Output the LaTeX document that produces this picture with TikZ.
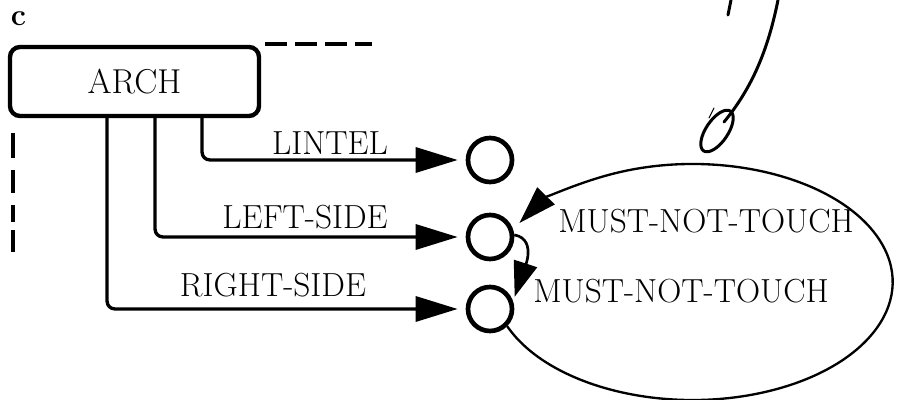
\documentclass[tikz,border=0pt]{standalone}
\usepackage{fontspec}
\usetikzlibrary{arrows.meta,calc}

\begin{document}
\begin{tikzpicture}[x=0.03cm,y=0.03cm,
  lbl/.style={inner sep=0pt,font=\fontsize{28.5}{32}\selectfont},
  archbox/.style={draw,line width=0.13cm,rounded corners=0.3cm,
    minimum width=7.47cm,minimum height=2.07cm,inner sep=0pt,
    font=\fontsize{29.5}{33}\selectfont},
  slot/.style={draw,circle,line width=0.14cm,minimum size=1.32cm,inner sep=0pt},
  link/.style={line width=0.1cm,rounded corners=0.24cm,shorten >=0.24cm,
    -{Triangle[length=1.26cm,width=0.75cm]}},
  ring/.style={line width=0.07cm,-{Triangle[length=1.14cm,width=0.72cm]}},
  hook/.style={line width=0.08cm,shorten >=0.15cm,
    -{Triangle[length=1.05cm,width=0.72cm]}},
  edge dash/.style={line width=0.12cm},
  pen/.style={line width=0.09cm,line cap=round}]

  \fill[white] (0,0) rectangle (897,-400);
  \useasboundingbox (0,0) rectangle (897,-400);

  % frame letter
  \node[inner sep=0pt,font=\fontsize{26}{30}\selectfont\bfseries] (tag) at (18.5,-19) {c};

  % the ARCH frame and its slots
  \node[archbox] (arch) at (134.5,-81.5) {ARCH};
  \node[slot] (c1) at (490,-160) {};
  \node[slot] (c2) at (490,-237) {};
  \node[slot] (c3) at (490,-309) {};

  % slot links
  \draw[link] (202,0 |- arch.south) |- (c1);
  \draw[link] (155,0 |- arch.south) |- (c2);
  \draw[link] (107,0 |- arch.south) |- (c3);

  \node[lbl] (lintel) at (330,-143) {LINTEL};
  \node[lbl] (lside) at (305,-217) {LEFT-SIDE};
  \node[lbl] (rside) at (273,-285) {RIGHT-SIDE};

  % must-not-touch relations
  \draw[ring] (c3.-45) arc[start angle=202,end angle=510,x radius=200,y radius=118];
  \draw[hook] (c2.5) to[out=-10,in=72] (c3.18);

  \node[lbl] (mnt1) at (706,-221) {MUST-NOT-TOUCH};
  \node[lbl] (mnt2) at (681,-291) {MUST-NOT-TOUCH};

  % continuation edges of the frame
  \coordinate (topend) at (372,-44);
  \draw[edge dash,dash pattern=on 0.66cm off 0.24cm] (265,-44) -- (topend);
  \coordinate (sidetop) at (13,-133);
  \draw[edge dash,dash pattern=on 0.75cm off 0.36cm on 0.69cm off 0.36cm on 0.51cm off 0.24cm on 0.66cm]
    (sidetop) -- (13,-252);

  % pen marks
  \draw[pen] (728,-15) -- (731,0);
  \draw[pen] (778,0) .. controls (768,-50) and (752,-88) .. (724,-122);
  \draw[pen] (717,-131) ellipse[x radius=24,y radius=11,rotate=56];
  \draw[pen,line width=0.03cm] (709,-118) -- (714,-108);
\end{tikzpicture}
\end{document}
